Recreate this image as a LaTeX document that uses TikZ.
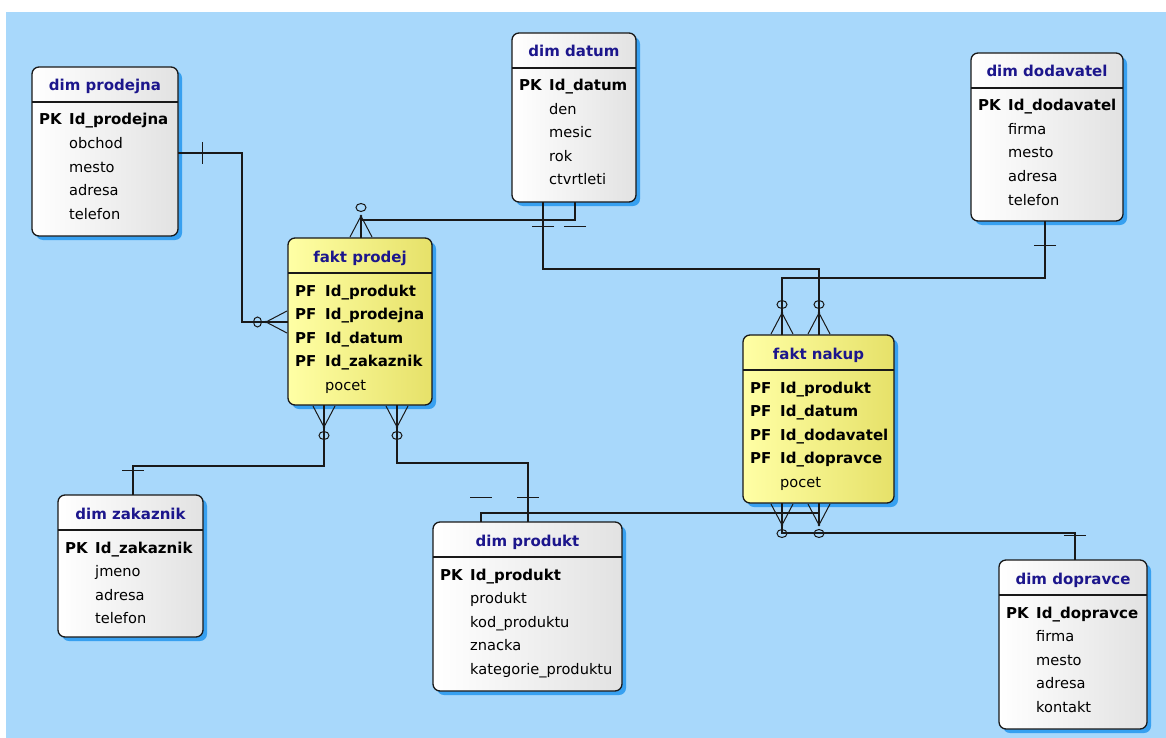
\documentclass[tikz,border=0pt]{standalone}
\usepackage{fontspec}
\setmainfont{DejaVu Sans}
\usetikzlibrary{calc,shadows}

\definecolor{bgblue}{RGB}{168,216,251}
\definecolor{shadowblue}{RGB}{55,160,240}
\definecolor{linecol}{RGB}{25,25,25}
\definecolor{titleblue}{RGB}{28,22,140}
\definecolor{dimgray}{RGB}{226,226,226}
\definecolor{faktlight}{RGB}{255,255,165}
\definecolor{faktdark}{RGB}{230,225,105}

\tikzset{
  entitybase/.style={draw=linecol, line width=1.3pt, rounded corners=7pt,
    inner sep=0pt, outer sep=0pt, anchor=north west,
    drop shadow={shadow xshift=4pt, shadow yshift=-4pt, fill=shadowblue, opacity=1}},
  dimbox/.style={entitybase, left color=white, right color=dimgray},
  faktbox/.style={entitybase, left color=faktlight, right color=faktdark},
  sepline/.style={draw=linecol, line width=1.3pt},
  titletext/.style={font=\fontsize{15}{18}\selectfont\bfseries, text=titleblue,
    inner sep=0pt, anchor=base},
  keytext/.style={font=\fontsize{15}{18}\selectfont\bfseries, text=black,
    inner sep=0pt, anchor=base west},
  fieldtext/.style={font=\fontsize{14.6}{18}\selectfont, text=black,
    inner sep=0pt, anchor=base west},
  conn/.style={draw=linecol, line width=1.3pt},
  symline/.style={draw=linecol, line width=1pt},
  % mandatory one: a single bar across the line
  onebar/.pic={\draw[conn] (24.5,-11) -- (24.5,11);},
  % optional many: crow's foot with a circle
  manyopt/.pic={
    \draw[conn] (0,0) -- (22,0);
    \draw[symline] (1,-11) -- (22,0) -- (1,11);
    \fill[linecol] (22,0) circle[radius=1.4pt];
    \draw[symline] (30.5,0) ellipse[x radius=4pt, y radius=5pt];},
}

% entity box with its title band
\newcommand\erbox[7]{%
  \node[#2, minimum width=#5pt, minimum height=#6pt] (#1) at (#3,#4) {};
  \draw[sepline] ($(#1.north west)+(0,35)$) -- ($(#1.north east)+(0,35)$);
  \node[titletext] (#1-title) at ($(#1.north)+(0,24)$) {#7};
}
% key attribute row (PK / PF)
\newcommand\erkey[4]{%
  \node[keytext] (#1-key#2) at ($(#1.north west)+(7,{58+23.5*#2})$) {#3};
  \node[keytext] (#1-field#2) at ($(#1.north west)+(37,{58+23.5*#2})$) {#4};
}
% plain attribute row
\newcommand\erfield[3]{%
  \node[fieldtext] (#1-field#2) at ($(#1.north west)+(37,{58+23.5*#2})$) {#3};
}

\begin{document}
\begin{tikzpicture}[x=1pt, y=-1pt]
\useasboundingbox (0,0) rectangle (1166,738);
\fill[bgblue] (6,12) rectangle (1166,738);

% ---- dimension tables
\erbox{prodejna}{dimbox}{32}{67}{146}{169}{dim prodejna}
\erkey{prodejna}{0}{PK}{Id\_prodejna}
\erfield{prodejna}{1}{obchod}
\erfield{prodejna}{2}{mesto}
\erfield{prodejna}{3}{adresa}
\erfield{prodejna}{4}{telefon}

\erbox{datum}{dimbox}{512}{33}{124}{169}{dim datum}
\erkey{datum}{0}{PK}{Id\_datum}
\erfield{datum}{1}{den}
\erfield{datum}{2}{mesic}
\erfield{datum}{3}{rok}
\erfield{datum}{4}{ctvrtleti}

\erbox{dodavatel}{dimbox}{971}{53}{152}{168}{dim dodavatel}
\erkey{dodavatel}{0}{PK}{Id\_dodavatel}
\erfield{dodavatel}{1}{firma}
\erfield{dodavatel}{2}{mesto}
\erfield{dodavatel}{3}{adresa}
\erfield{dodavatel}{4}{telefon}

\erbox{zakaznik}{dimbox}{58}{495}{145}{142}{dim zakaznik}
\erkey{zakaznik}{0}{PK}{Id\_zakaznik}
\erfield{zakaznik}{1}{jmeno}
\erfield{zakaznik}{2}{adresa}
\erfield{zakaznik}{3}{telefon}

\erbox{produkt}{dimbox}{433}{522}{189}{169}{dim produkt}
\erkey{produkt}{0}{PK}{Id\_produkt}
\erfield{produkt}{1}{produkt}
\erfield{produkt}{2}{kod\_produktu}
\erfield{produkt}{3}{znacka}
\erfield{produkt}{4}{kategorie\_produktu}

\erbox{dopravce}{dimbox}{999}{560}{148}{169}{dim dopravce}
\erkey{dopravce}{0}{PK}{Id\_dopravce}
\erfield{dopravce}{1}{firma}
\erfield{dopravce}{2}{mesto}
\erfield{dopravce}{3}{adresa}
\erfield{dopravce}{4}{kontakt}

% ---- fact tables
\erbox{prodej}{faktbox}{288}{238}{144}{167}{fakt prodej}
\erkey{prodej}{0}{PF}{Id\_produkt}
\erkey{prodej}{1}{PF}{Id\_prodejna}
\erkey{prodej}{2}{PF}{Id\_datum}
\erkey{prodej}{3}{PF}{Id\_zakaznik}
\erfield{prodej}{4}{pocet}

\erbox{nakup}{faktbox}{743}{335}{151}{168}{fakt nakup}
\erkey{nakup}{0}{PF}{Id\_produkt}
\erkey{nakup}{1}{PF}{Id\_datum}
\erkey{nakup}{2}{PF}{Id\_dodavatel}
\erkey{nakup}{3}{PF}{Id\_dopravce}
\erfield{nakup}{4}{pocet}

% ---- connection points on the table edges
\coordinate (prodejnaR) at ($(prodejna.north east)+(0,86)$);
\coordinate (prodejL)   at ($(prodej.north west)+(0,84)$);
\coordinate (datumB2)   at ($(datum.south west)+(63,0)$);
\coordinate (prodejT)   at ($(prodej.north west)+(73,0)$);
\coordinate (datumB1)   at ($(datum.south west)+(31,0)$);
\coordinate (nakupT2)   at ($(nakup.north west)+(76,0)$);
\coordinate (dodavatelB) at ($(dodavatel.south west)+(74,0)$);
\coordinate (nakupT1)   at ($(nakup.north west)+(39,0)$);
\coordinate (prodejB1)  at ($(prodej.south west)+(36,0)$);
\coordinate (zakaznikT) at ($(zakaznik.north west)+(75,0)$);
\coordinate (prodejB2)  at ($(prodej.south west)+(109,0)$);
\coordinate (produktT2) at ($(produkt.north west)+(95,0)$);
\coordinate (produktT1) at ($(produkt.north west)+(48,0)$);
\coordinate (nakupB2)   at ($(nakup.south west)+(76,0)$);
\coordinate (dopravceT) at ($(dopravce.north west)+(76,0)$);
\coordinate (nakupB1)   at ($(nakup.south west)+(39,0)$);

% ---- relationships
\draw[conn] (prodejnaR) -- ++(64,0) |- (prodejL);
\pic at (prodejnaR) {onebar};
\pic[rotate=180] at (prodejL) {manyopt};

\draw[conn] (datumB2) -- ++(0,18) -| (prodejT);
\pic[rotate=-90] at (datumB2) {onebar};
\pic[rotate=90] at (prodejT) {manyopt};

\draw[conn] (datumB1) -- ++(0,67) -| (nakupT2);
\pic[rotate=-90] at (datumB1) {onebar};
\pic[rotate=90] at (nakupT2) {manyopt};

\draw[conn] (dodavatelB) -- ++(0,57) -| (nakupT1);
\pic[rotate=-90] at (dodavatelB) {onebar};
\pic[rotate=90] at (nakupT1) {manyopt};

\draw[conn] (prodejB1) -- ++(0,61) -| (zakaznikT);
\pic[rotate=-90] at (prodejB1) {manyopt};
\pic[rotate=90] at (zakaznikT) {onebar};

\draw[conn] (prodejB2) -- ++(0,58) -| (produktT2);
\pic[rotate=-90] at (prodejB2) {manyopt};
\pic[rotate=90] at (produktT2) {onebar};

\draw[conn] (produktT1) -- ++(0,-9) -| (nakupB2);
\pic[rotate=90] at (produktT1) {onebar};
\pic[rotate=-90] at (nakupB2) {manyopt};

\draw[conn] (dopravceT) -- ++(0,-27) -| (nakupB1);
\pic[rotate=90] at (dopravceT) {onebar};
\pic[rotate=-90] at (nakupB1) {manyopt};
\end{tikzpicture}
\end{document}
